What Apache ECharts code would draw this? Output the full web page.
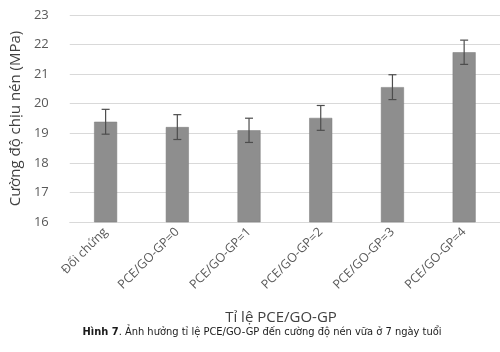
<!DOCTYPE html>
<html>
<head>
<meta charset="utf-8">
<script src="https://cdn.jsdelivr.net/npm/echarts@6/dist/echarts.min.js"></script>
<style>
  html, body { margin: 0; padding: 0; background: #fff; }
  #chart { width: 500px; height: 352px; }
</style>
</head>
<body>
<div id="chart"></div>
<script>
// categories and values
const categories = ['Đối chứng', 'PCE/GO-GP=0', 'PCE/GO-GP=1', 'PCE/GO-GP=2', 'PCE/GO-GP=3', 'PCE/GO-GP=4'];
const strength = [19.39, 19.21, 19.10, 19.52, 20.56, 21.74];
const errors = [0.42, 0.42, 0.41, 0.42, 0.42, 0.41];
const yTicks = [16, 17, 18, 19, 20, 21, 22, 23];
const xTitle = 'Tỉ lệ PCE/GO-GP';

const chart = echarts.init(document.getElementById('chart'));

const errData = strength.map((v, i) => [i, v - errors[i], v + errors[i]]);

const option = {
    animation: false,
    backgroundColor: '#fff',
    grid: { left: 61, top: 15, width: 448, height: 207, containLabel: false },
    xAxis: {
        type: 'category',
        data: categories,
        axisLine: { show: true, lineStyle: { color: '#d9d9d9' } },
        axisTick: { show: false },
        axisLabel: {
            rotate: 45,
            interval: 0,
            margin: 8,
            color: '#595959',
            fontSize: 12.5,
            fontFamily: 'Open Sans'
        }
    },
    yAxis: {
        type: 'value',
        min: yTicks[0],
        max: yTicks[yTicks.length - 1],
        interval: 1,
        axisLine: { show: false },
        axisTick: { show: false },
        splitLine: { lineStyle: { color: '#d9d9d9', width: 1 } },
        axisLabel: { color: '#595959', fontSize: 13, margin: 21, fontFamily: 'Open Sans' },
        name: 'Cường độ chịu nén (MPa)',
        nameLocation: 'middle',
        nameGap: 35,
        nameTextStyle: { color: '#404040', fontSize: 15, fontFamily: 'Open Sans' }
    },
    series: [
        {
            type: 'bar',
            data: strength,
            barWidth: 23,
            itemStyle: { color: '#8e8e8e', borderColor: '#7a7a7a', borderWidth: 0.5 }
        },
        {
            type: 'custom',
            data: errData,
            z: 10,
            renderItem: function (params, api) {
                const x = api.value(0);
                const lo = api.coord([x, api.value(1)]);
                const hi = api.coord([x, api.value(2)]);
                const cap = 4;
                const style = { stroke: '#4d4d4d', lineWidth: 1.2 };
                return {
                    type: 'group',
                    children: [
                        { type: 'line', shape: { x1: hi[0], y1: hi[1], x2: lo[0], y2: lo[1] }, style: style },
                        { type: 'line', shape: { x1: hi[0] - cap, y1: hi[1], x2: hi[0] + cap, y2: hi[1] }, style: style },
                        { type: 'line', shape: { x1: lo[0] - cap, y1: lo[1], x2: lo[0] + cap, y2: lo[1] }, style: style }
                    ]
                };
            }
        }
    ],
    graphic: [
        {
            type: 'text',
            x: 281,
            y: 318,
            style: {
                text: xTitle,
                align: 'center',
                verticalAlign: 'middle',
                fontSize: 15,
                fontFamily: 'Open Sans',
                fill: '#404040'
            }
        },
        {
            type: 'text',
            x: 262,
            y: 332,
            style: {
                text: '{b|Hình 7}{n|. Ảnh hưởng tỉ lệ PCE/GO-GP đến cường độ nén vữa ở 7 ngày tuổi}',
                align: 'center',
                verticalAlign: 'middle',
                rich: {
                    b: { fontSize: 11, fontWeight: 'bold', fill: '#1a1a1a', fontFamily: 'DejaVu Sans Condensed' },
                    n: { fontSize: 11, fill: '#1a1a1a', fontFamily: 'DejaVu Sans Condensed' }
                }
            }
        }
    ]
};

chart.setOption(option);
</script>
</body>
</html>
